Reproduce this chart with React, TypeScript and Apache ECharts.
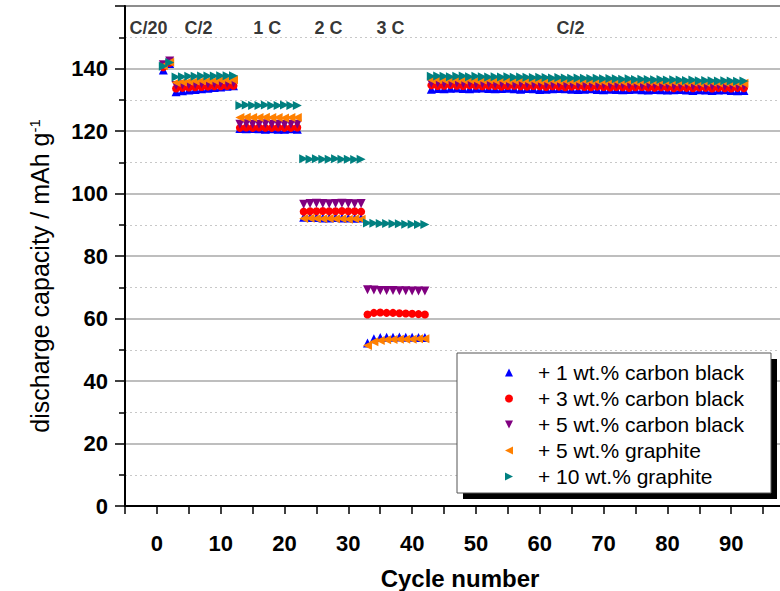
import React, { useEffect, useRef } from "react";
import * as echarts from "echarts";

const seriesNames = [
  "+ 1 wt.% carbon black",
  "+ 3 wt.% carbon black",
  "+ 5 wt.% carbon black",
  "+ 5 wt.% graphite",
  "+ 10 wt.% graphite",
];
const seriesColors = ["#0000ff", "#ff0000", "#800080", "#ff8000", "#008080"];
const seriesSymbols = [
  "path://M5,0L10,10L0,10Z",
  "circle",
  "path://M0,0L10,0L5,10Z",
  "path://M0,5L10,0L10,10Z",
  "path://M0,0L10,5L0,10Z",
];

const cb1 = [
  139.5, 141.6,
  132.6, 132.9, 133.1, 133.3, 133.5, 133.7, 133.9, 134.1, 134.3, 134.5,
  120.8, 120.7, 120.8, 120.7, 120.6, 120.7, 120.6, 120.6, 120.7, 120.6,
  92.4, 92.3, 92.3, 92.2, 92.2, 92.3, 92.2, 92.2, 92.1, 92.2,
  52.2, 53.5, 53.9, 54.0, 54.0, 54.1, 54.0, 54.0, 53.9, 53.9,
  133.4, 133.6, 133.5, 133.7, 133.8, 133.6, 133.5, 133.7, 133.8, 133.6,
  133.5, 133.6, 133.7, 133.5, 133.4, 133.6, 133.5, 133.3, 133.4, 133.5,
  133.6, 133.5, 133.4, 133.3, 133.4, 133.5, 133.3, 133.2, 133.4, 133.3,
  133.2, 133.3, 133.4, 133.2, 133.1, 133.3, 133.2, 133.1, 133.2, 133.3,
  133.1, 133.0, 133.2, 133.1, 133.0, 133.1, 133.2, 133.0, 132.9, 133.0,
];
const cb3 = [
  140.4, 141.8,
  133.6, 133.8, 133.9, 134.0, 134.1, 134.2, 134.3, 134.3, 134.4, 134.5,
  121.0, 121.1, 121.0, 121.1, 121.0, 121.0, 121.1, 121.0, 121.0, 121.1,
  94.2, 94.3, 94.3, 94.4, 94.3, 94.3, 94.4, 94.3, 94.3, 94.2,
  61.3, 61.8, 61.9, 61.8, 61.8, 61.7, 61.6, 61.5, 61.4, 61.3,
  134.6, 134.4, 134.5, 134.7, 134.5, 134.4, 134.6, 134.5, 134.3, 134.5,
  134.4, 134.2, 134.4, 134.5, 134.3, 134.2, 134.4, 134.3, 134.1, 134.3,
  134.2, 134.0, 134.2, 134.3, 134.1, 134.0, 134.2, 134.1, 133.9, 134.1,
  134.0, 133.8, 134.0, 134.1, 133.9, 133.8, 134.0, 133.9, 133.7, 133.9,
  133.8, 133.7, 133.9, 133.8, 133.6, 133.8, 133.7, 133.6, 133.8, 133.7,
];
const cb5 = [
  141.2, 142.4,
  134.6, 134.8, 134.9, 135.0, 135.1, 135.1, 135.2, 135.3, 135.3, 135.4,
  122.2, 122.3, 122.2, 122.2, 122.3, 122.2, 122.2, 122.1, 122.2, 122.2,
  96.6, 96.8, 96.9, 96.8, 96.7, 96.8, 96.9, 96.8, 96.7, 96.8,
  69.2, 69.1, 69.0, 69.0, 69.0, 68.9, 68.9, 68.8, 68.8, 68.8,
  135.3, 135.4, 135.2, 135.3, 135.4, 135.2, 135.3, 135.1, 135.2, 135.3,
  135.1, 135.2, 135.1, 135.0, 135.2, 135.1, 135.0, 135.1, 134.9, 135.0,
  135.1, 134.9, 135.0, 134.8, 134.9, 135.0, 134.8, 134.9, 134.7, 134.8,
  134.9, 134.7, 134.8, 134.6, 134.7, 134.8, 134.6, 134.7, 134.5, 134.6,
  134.7, 134.5, 134.6, 134.4, 134.5, 134.6, 134.4, 134.5, 134.4, 134.5,
];
const gr5 = [
  140.9, 142.0,
  135.5, 135.7, 135.9, 136.0, 136.1, 136.2, 136.2, 136.3, 136.3, 136.4,
  124.3, 124.4, 124.3, 124.3, 124.4, 124.3, 124.3, 124.2, 124.3, 124.3,
  92.0, 92.1, 92.0, 91.9, 92.0, 91.9, 91.9, 91.8, 91.9, 91.8,
  51.4, 52.6, 53.0, 53.2, 53.3, 53.4, 53.4, 53.4, 53.5, 53.5,
  136.4, 136.5, 136.3, 136.4, 136.5, 136.3, 136.4, 136.2, 136.3, 136.4,
  136.2, 136.3, 136.1, 136.2, 136.3, 136.1, 136.2, 136.0, 136.1, 136.2,
  136.0, 136.1, 135.9, 136.0, 136.1, 135.9, 136.0, 135.8, 135.9, 136.0,
  135.8, 135.9, 135.7, 135.8, 135.9, 135.7, 135.8, 135.6, 135.7, 135.6,
  135.5, 135.6, 135.4, 135.5, 135.6, 135.4, 135.5, 135.3, 135.4, 135.3,
];
const gr10 = [
  140.7, 141.9,
  137.3, 137.4, 137.5, 137.5, 137.6, 137.6, 137.6, 137.7, 137.7, 137.7,
  128.2, 128.3, 128.2, 128.2, 128.3, 128.2, 128.2, 128.3, 128.2, 128.2,
  111.1, 111.0, 111.1, 111.0, 111.0, 111.1, 111.0, 111.0, 110.9, 111.0,
  90.6, 90.5, 90.4, 90.4, 90.3, 90.3, 90.2, 90.2, 90.1, 90.1,
  137.5, 137.6, 137.5, 137.4, 137.5, 137.6, 137.4, 137.5, 137.4, 137.3,
  137.4, 137.3, 137.4, 137.2, 137.3, 137.2, 137.1, 137.2, 137.1, 137.0,
  137.1, 137.0, 136.9, 137.0, 136.9, 136.8, 136.9, 136.7, 136.8, 136.7,
  136.6, 136.7, 136.5, 136.6, 136.5, 136.4, 136.5, 136.3, 136.4, 136.3,
  136.2, 136.3, 136.1, 136.2, 136.1, 136.0, 136.1, 136.0, 135.9, 136.0,
];
const seriesValues = [cb1, cb3, cb5, gr5, gr10];

const rateLabels = ["C/20", "C/2", "1 C", "2 C", "3 C", "C/2"];
const rateLabelCycles = [-1.3, 6.5, 17.3, 26.9, 36.6, 64.8];
const rateLabelLevel = 153;

const FONT = "'Liberation Sans', Arial, Helvetica, sans-serif";

export default function App() {
  const ref = useRef<HTMLDivElement>(null);

  useEffect(() => {
    if (!ref.current) return;
    const chart = echarts.init(ref.current, undefined, { renderer: "svg" });

    const dataSeries = seriesNames.map((name, k) => ({
      name,
      type: "scatter",
      symbol: seriesSymbols[k],
      symbolSize: k === 1 ? 8 : 9,
      itemStyle: { color: seriesColors[k], opacity: 1 },
      z: 2 + k * 0.1,
      data: seriesValues[k].map((v, i) => [i + 1, v]),
    }));

    const labelSeries = {
      name: "rates",
      type: "scatter",
      symbolSize: 0,
      silent: true,
      label: {
        show: true,
        position: "inside",
        formatter: (p: any) => p.name,
        fontFamily: FONT,
        fontWeight: "bold",
        fontSize: 18,
        color: "#000",
      },
      data: rateLabels.map((t, i) => ({ name: t, value: [rateLabelCycles[i], rateLabelLevel] })),
    };

    chart.setOption({
      animation: false,
      backgroundColor: "#fff",
      grid: {
        left: 125,
        right: 5,
        top: 6,
        bottom: 85,
        containLabel: false,
        outerBoundsMode: "none",
        show: true,
        borderColor: "#000",
        borderWidth: 1.5,
        backgroundColor: "transparent",
      },
      xAxis: {
        type: "value",
        min: -5,
        max: 100,
        interval: 5,
        name: "Cycle number",
        nameLocation: "middle",
        nameGap: 60,
        nameMoveOverlap: false,
        nameTextStyle: { fontFamily: FONT, fontWeight: "bold", fontSize: 24, color: "#000" },
        axisLine: { show: true, onZero: false, lineStyle: { color: "#000", width: 2 } },
        axisTick: { show: true, inside: false, length: 8, lineStyle: { color: "#000", width: 1.5 } },
        axisLabel: {
          show: true,
          margin: 26,
          fontFamily: FONT,
          fontWeight: "bold",
          fontSize: 22,
          color: "#000",
          formatter: (v: number) => (v % 10 === 0 && v >= 0 && v <= 90 ? String(v) : ""),
        },
        splitLine: { show: false },
      },
      yAxis: {
        type: "value",
        min: 0,
        max: 160,
        interval: 20,
        axisLine: { show: true, onZero: false, lineStyle: { color: "#000", width: 2 } },
        axisTick: { show: true, length: 10, lineStyle: { color: "#000", width: 1.5 } },
        minorTick: { show: true, splitNumber: 2, length: 6, lineStyle: { color: "#000", width: 1.5 } },
        axisLabel: {
          show: true,
          margin: 17,
          fontFamily: FONT,
          fontWeight: "bold",
          fontSize: 22,
          color: "#000",
          formatter: (v: number) => (v >= 160 ? "" : String(v)),
        },
        splitLine: { show: true, lineStyle: { color: "#a8a8a8", width: 1.5 } },
        minorSplitLine: { show: true, lineStyle: { color: "#c8c8c8", width: 1, type: [2, 3] } },
      },
      legend: {
        orient: "vertical",
        left: 505,
        top: 362,
        padding: 0,
        itemWidth: 8,
        itemHeight: 8,
        itemGap: 5,
        data: seriesNames.map((n, k) => ({ name: n, icon: seriesSymbols[k] })),
        textStyle: {
          fontFamily: FONT,
          fontSize: 21,
          color: "#000",
          padding: [0, 0, 0, 20],
        },
        z: 10,
      },
      graphic: [
        {
          type: "rect",
          z: 5,
          shape: { x: 463, y: 359, width: 314, height: 140 },
          style: { fill: "#000" },
        },
        {
          type: "rect",
          z: 6,
          shape: { x: 457, y: 353, width: 314, height: 140 },
          style: { fill: "#fff", stroke: "#555", lineWidth: 1 },
        },
        {
          type: "text",
          z: 6,
          x: 40,
          y: 276,
          rotation: Math.PI / 2,
          style: {
            text: "discharge capacity / mAh g{sup|-1}",
            fontFamily: FONT,
            fontSize: 25,
            fill: "#000",
            align: "center",
            verticalAlign: "middle",
            rich: {
              sup: { fontFamily: FONT, fontSize: 15, fill: "#000", padding: [0, 0, 12, 0] },
            },
          },
        },
      ],
      series: [...dataSeries, labelSeries],
    });

    return () => chart.dispose();
  }, []);

  return (
    <div style={{ position: "absolute", left: 0, top: 0, width: 780, height: 591, overflow: "hidden", background: "#fff" }}>
      <div ref={ref} style={{ width: 800, height: 591 }} />
    </div>
  );
}
